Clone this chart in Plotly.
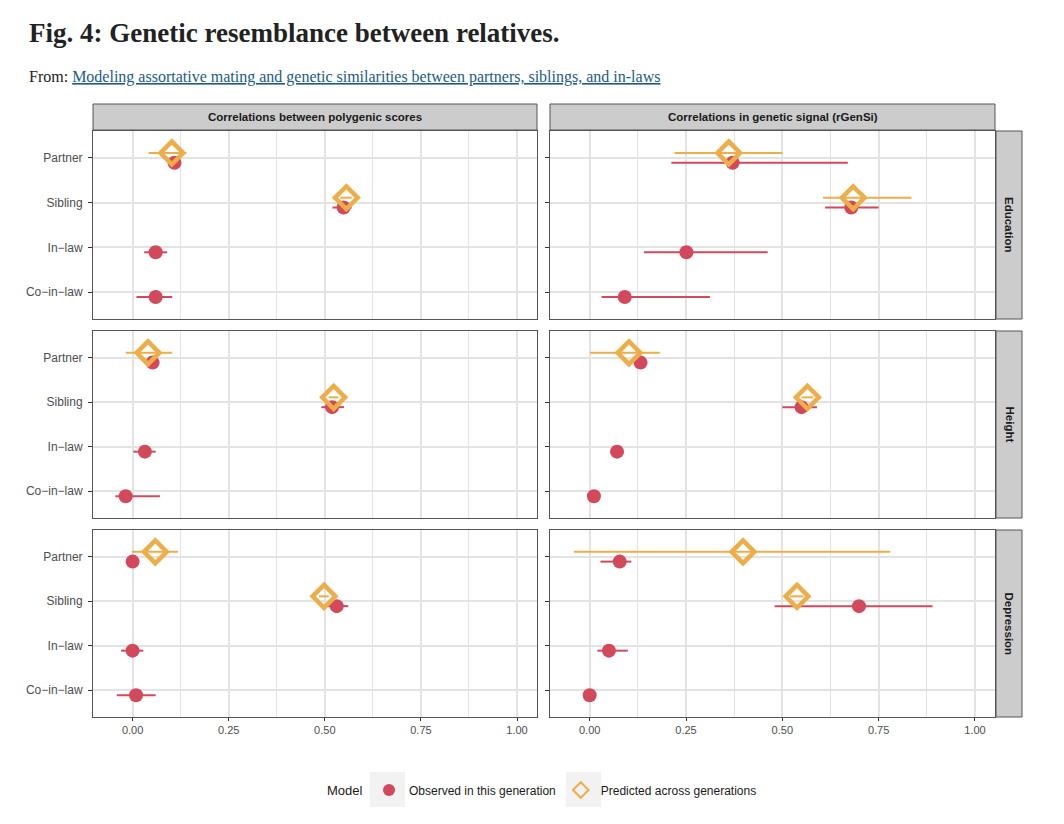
import plotly.graph_objects as go
from plotly.subplots import make_subplots

# facets
traits = ["Education", "Height", "Depression"]
measures = ["Correlations between polygenic scores", "Correlations in genetic signal (rGenSi)"]
relations = ["Partner", "Sibling", "In\u2212law", "Co\u2212in\u2212law"]

# observed in this generation: estimate, lower, upper (Partner, Sibling, In-law, Co-in-law)
obs_est = {
    ("Education", 0): [0.109, 0.549, 0.060, 0.060],
    ("Education", 1): [0.371, 0.679, 0.251, 0.091],
    ("Height", 0): [0.052, 0.519, 0.032, -0.018],
    ("Height", 1): [0.132, 0.550, 0.071, 0.011],
    ("Depression", 0): [0.000, 0.531, 0.000, 0.009],
    ("Depression", 1): [0.078, 0.699, 0.050, 0.000],
}
obs_lo = {
    ("Education", 0): [0.095, 0.520, 0.030, 0.010],
    ("Education", 1): [0.212, 0.611, 0.141, 0.031],
    ("Height", 0): [0.040, 0.491, 0.002, -0.045],
    ("Height", 1): [0.120, 0.500, 0.060, 0.000],
    ("Depression", 0): [-0.010, 0.500, -0.030, -0.041],
    ("Depression", 1): [0.028, 0.480, 0.020, -0.010],
}
obs_hi = {
    ("Education", 0): [0.123, 0.570, 0.090, 0.103],
    ("Education", 1): [0.670, 0.750, 0.462, 0.312],
    ("Height", 0): [0.065, 0.550, 0.060, 0.071],
    ("Height", 1): [0.145, 0.590, 0.080, 0.020],
    ("Depression", 0): [0.010, 0.561, 0.028, 0.060],
    ("Depression", 1): [0.108, 0.890, 0.099, 0.010],
}

# predicted across generations (Partner, Sibling only)
pred_est = {
    ("Education", 0): [0.102, 0.556],
    ("Education", 1): [0.361, 0.684],
    ("Height", 0): [0.040, 0.523],
    ("Height", 1): [0.102, 0.565],
    ("Depression", 0): [0.059, 0.498],
    ("Depression", 1): [0.398, 0.538],
}
pred_lo = {
    ("Education", 0): [0.042, 0.540],
    ("Education", 1): [0.220, 0.606],
    ("Height", 0): [-0.018, 0.510],
    ("Height", 1): [0.001, 0.550],
    ("Depression", 0): [-0.002, 0.485],
    ("Depression", 1): [-0.041, 0.520],
}
pred_hi = {
    ("Education", 0): [0.140, 0.570],
    ("Education", 1): [0.500, 0.835],
    ("Height", 0): [0.103, 0.535],
    ("Height", 1): [0.182, 0.580],
    ("Depression", 0): [0.118, 0.510],
    ("Depression", 1): [0.780, 0.555],
}

x_ticks = [0, 0.25, 0.5, 0.75, 1.0]

RED = "#D1495B"
ORANGE = "#EDAE49"
GRID = "#e3e3e3"
BORDER = "#555555"
# the page body has an 8px margin, so the figure is a bit smaller than the window
OFF = 8
W, H = 1064 - OFF, 824 - OFF

fig = make_subplots(rows=3, cols=2)

dodge = 0.11
ypos = [1, 2, 3, 4]
for r, trait in enumerate(traits):
    for c in range(2):
        key = (trait, c)
        est = obs_est[key]
        fig.add_trace(go.Scatter(
            x=est, y=[p + dodge for p in ypos], mode="markers",
            name="Observed in this generation", legendgroup="obs",
            showlegend=(r == 0 and c == 0),
            marker=dict(symbol="circle", size=14, color=RED),
            error_x=dict(type="data", symmetric=False,
                         array=[h - e for h, e in zip(obs_hi[key], est)],
                         arrayminus=[e - l for e, l in zip(est, obs_lo[key])],
                         width=0, thickness=2, color=RED),
            hoverinfo="x",
        ), row=r + 1, col=c + 1)
    for c in range(2):
        key = (trait, c)
        est = pred_est[key]
        fig.add_trace(go.Scatter(
            x=est, y=[p - dodge for p in ypos[:2]], mode="markers",
            name="Predicted across generations", legendgroup="pred",
            showlegend=(r == 0 and c == 0),
            marker=dict(symbol="diamond-open", size=17.5, color=ORANGE,
                        line=dict(width=4.5, color=ORANGE)),
            error_x=dict(type="data", symmetric=False,
                         array=[h - e for h, e in zip(pred_hi[key], est)],
                         arrayminus=[e - l for e, l in zip(est, pred_lo[key])],
                         width=0, thickness=2, color=ORANGE),
            hoverinfo="x",
        ), row=r + 1, col=c + 1)

# panel geometry in window pixels
col_px = [(93, 537), (550, 995)]
row_px = [(131, 319), (331, 518), (530, 717)]

def fx(px):
    return (px - OFF) / W

def fy(py):
    return 1 - (py - OFF) / H

sans = "Liberation Sans, Arial, sans-serif"
x_font = dict(family=sans, size=11, color="#4d4d4d")
y_font = dict(family=sans, size=12, color="#4d4d4d")
layout = {}
n = 0
for r in range(3):
    for c in range(2):
        n += 1
        sfx = "" if n == 1 else str(n)
        layout["xaxis" + sfx] = dict(
            domain=[fx(col_px[c][0]), fx(col_px[c][1])],
            range=[-0.103, 1.052],
            tickvals=x_ticks, tickformat=".2f",
            showticklabels=(r == 2), ticks="outside" if r == 2 else "",
            ticklen=3, tickcolor="#333333",
            showgrid=True, gridcolor=GRID, gridwidth=1.5,
            minor=dict(dtick=0.125, tick0=0, showgrid=True, gridcolor=GRID, gridwidth=1),
            showline=True, mirror=True, linecolor=BORDER, linewidth=1,
            zeroline=False, tickfont=x_font,
        )
        layout["yaxis" + sfx] = dict(
            domain=[fy(row_px[r][1]), fy(row_px[r][0])],
            range=[4.6, 0.4],
            tickvals=ypos, ticktext=relations,
            showticklabels=(c == 0), ticks="outside",
            ticklen=4, tickcolor="#333333", ticklabelstandoff=3,
            showgrid=True, gridcolor=GRID, gridwidth=1.5,
            showline=True, mirror=True, linecolor=BORDER, linewidth=1,
            zeroline=False, tickfont=y_font,
        )

shapes = []
annotations = []
strip_font = dict(family=sans, size=11.5, color="#1a1a1a")
for c, label in enumerate(measures):
    shapes.append(dict(type="rect", xref="paper", yref="paper",
                       x0=fx(col_px[c][0]), x1=fx(col_px[c][1]), y0=fy(130), y1=fy(104),
                       fillcolor="#cccccc", line=dict(color=BORDER, width=1)))
    annotations.append(dict(xref="paper", yref="paper", xanchor="center", yanchor="middle",
                            x=fx((col_px[c][0] + col_px[c][1]) / 2), y=fy(117),
                            text="<b>" + label + "</b>", showarrow=False, font=strip_font))
for r, trait in enumerate(traits):
    shapes.append(dict(type="rect", xref="paper", yref="paper",
                       x0=fx(996), x1=fx(1022), y0=fy(row_px[r][1]), y1=fy(row_px[r][0]),
                       fillcolor="#cccccc", line=dict(color=BORDER, width=1)))
    annotations.append(dict(xref="paper", yref="paper", xanchor="center", yanchor="middle",
                            x=fx(1009), y=fy((row_px[r][0] + row_px[r][1]) / 2),
                            text="<b>" + trait + "</b>", textangle=90,
                            showarrow=False, font=strip_font))

# grey legend key backgrounds
for x0 in (370, 566):
    shapes.append(dict(type="rect", xref="paper", yref="paper", layer="below",
                       x0=fx(x0), x1=fx(x0 + 35), y0=fy(807), y1=fy(772),
                       fillcolor="#f2f2f2", line=dict(width=0)))

annotations.append(dict(
    xref="paper", yref="paper", x=fx(325), y=fy(790), xanchor="left", yanchor="middle",
    text="Model", showarrow=False, font=dict(family=sans, size=13, color="#1a1a1a")))
annotations.append(dict(
    xref="paper", yref="paper", x=fx(27), y=fy(33), xanchor="left", yanchor="middle",
    text="<b>Fig. 4: Genetic resemblance between relatives.</b>", showarrow=False,
    font=dict(family="Liberation Serif, serif", size=27, color="#222222")))
annotations.append(dict(
    xref="paper", yref="paper", x=fx(27), y=fy(77), xanchor="left", yanchor="middle",
    text="From: <span style='color:#1c5a87'><u>Modeling assortative mating and genetic "
         "similarities between partners, siblings, and in-laws</u></span>",
    showarrow=False,
    font=dict(family="Liberation Serif, serif", size=16, color="#222222")))

fig.update_layout(
    width=W, height=H,
    margin=dict(l=0, r=0, t=0, b=0),
    paper_bgcolor="white", plot_bgcolor="white",
    shapes=shapes, annotations=annotations,
    legend=dict(orientation="h", x=fx(369), y=fy(790), xanchor="left", yanchor="middle",
                bgcolor="rgba(0,0,0,0)",
                font=dict(family=sans, size=12, color="#1a1a1a"),
                itemsizing="constant"),
    **layout,
)

fig.write_html("out.html")
